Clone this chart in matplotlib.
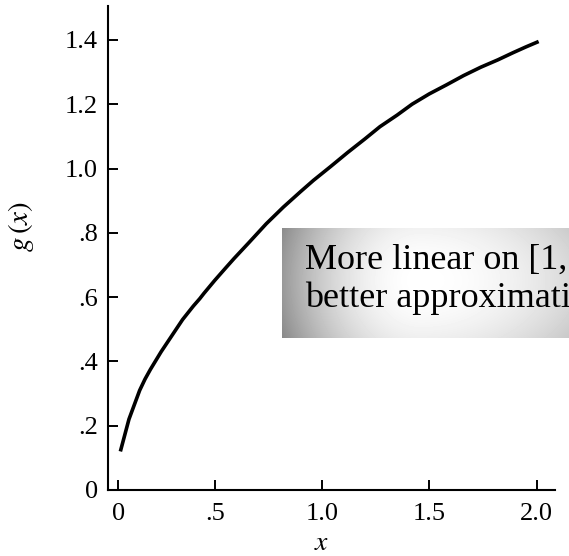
import numpy as np
import matplotlib
matplotlib.use('Agg')
import matplotlib.pyplot as plt

plt.rcParams['font.family'] = ['Liberation Serif', 'DejaVu Serif']
plt.rcParams['mathtext.fontset'] = 'stix'

# curve values
x_vals = [0.06, 0.07, 0.08, 0.09, 0.10, 0.125, 0.15, 0.175, 0.20, 0.25, 0.30,
          0.35, 0.40, 0.43, 0.45, 0.50, 0.55, 0.59, 0.66, 0.74, 0.82, 0.90,
          0.96, 1.04, 1.12, 1.20, 1.27, 1.35, 1.42, 1.50, 1.58, 1.66, 1.74,
          1.82, 1.89, 1.95, 2.01]
g_vals = [0.12, 0.145, 0.17, 0.195, 0.22, 0.265, 0.31, 0.345, 0.375, 0.43, 0.48,
          0.53, 0.572, 0.595, 0.612, 0.652, 0.69, 0.72, 0.77, 0.828, 0.88, 0.928,
          0.963, 1.006, 1.05, 1.092, 1.13, 1.166, 1.20, 1.232, 1.26, 1.289, 1.315,
          1.338, 1.36, 1.378, 1.395]

# ticks
x_ticks = [0.05, 0.5, 1.0, 1.5, 2.0]
x_labels = ['0', '.5', '1.0', '1.5', '2.0']
y_ticks = [0, 0.2, 0.4, 0.6, 0.8, 1.0, 1.2, 1.4]
y_labels = ['0', '.2', '.4', '.6', '.8', '1.0', '1.2', '1.4']

note = 'More linear on [1, 2],\nbetter approximation'

W, H = 569, 556
fig = plt.figure(figsize=(W / 100, H / 100), dpi=100)
ax = fig.add_axes([107.5 / W, 66 / H, 447.5 / W, 484 / H])

ax.plot(x_vals, g_vals, color='black', lw=2.6, solid_capstyle='butt')
ax.set_xlim(0, 447.5 / 214.5)
ax.set_ylim(0, 484 / 321.5)

for s in ['top', 'right']:
    ax.spines[s].set_visible(False)
for s in ['left', 'bottom']:
    ax.spines[s].set_linewidth(1.5)

ax.set_xticks(x_ticks)
ax.set_xticklabels(x_labels)
ax.set_yticks(y_ticks)
ax.set_yticklabels(y_labels)
ax.tick_params(direction='in', length=7.5, width=1.4, labelsize=19, pad=7)
ax.tick_params(axis='x', pad=9)

ax.set_ylabel(r'$g\,(x)$', fontsize=21)
ax.yaxis.set_label_coords(-0.160, 0.545)
ax.set_xlabel(r'$x$', fontsize=20)
ax.xaxis.set_label_coords(0.479, -0.084)

# shaded note box (runs off the right edge)
bx0, by0, by1 = 282, 228, 338
bax = fig.add_axes([bx0 / W, (H - by1) / H, (W - bx0) / W, (by1 - by0) / H])
px = np.arange(bx0, W)
py = np.arange(by0, by1)
PX, PY = np.meshgrid(px, py)
cx = 420.0
dx = np.where(PX < cx, 0.40 * ((PX - cx) / 138.0) ** 2,
              0.15 * ((PX - cx) / 149.0) ** 2)
shade = 1 - dx - 0.06 * ((PY - 280) / 55.0) ** 2
shade = np.clip(shade, 0, 1)
bax.imshow(shade, cmap='gray', vmin=0, vmax=1, aspect='auto',
           interpolation='bilinear')
bax.axis('off')

fig.text(305 / W, 1 - 307 / H, note, fontsize=26, va='baseline', ha='left',
         linespacing=1.2)

fig.savefig('out.png', dpi=100)
